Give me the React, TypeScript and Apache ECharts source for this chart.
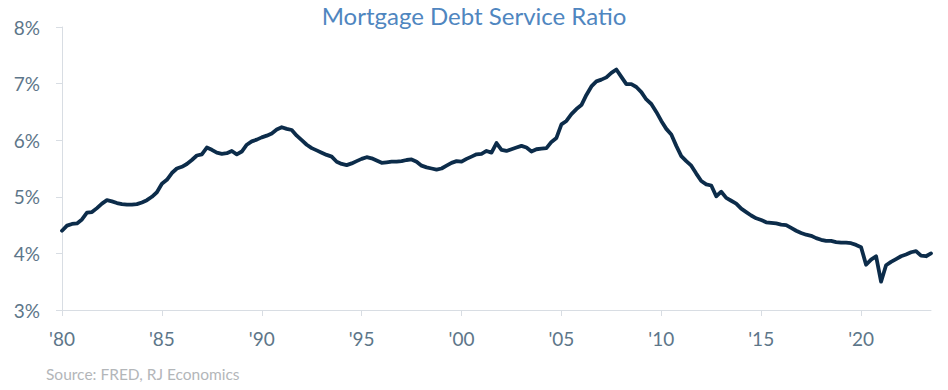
import React, { useEffect, useRef } from "react";
import * as echarts from "echarts";

const TITLE = "Mortgage Debt Service Ratio";
const SOURCE = "Source: FRED, RJ Economics";
const START_YEAR = 1980;
const Y_MIN = 3;
const Y_MAX = 8;
const Y_STEP = 1;

// Quarterly values, 1980Q1 onward (percent of disposable income)
const DSR_VALUES: number[] = [
  4.40, 4.49, 4.52, 4.53, 4.60, 4.72, 4.73, 4.80, 4.88, 4.94, 4.92, 4.89, 4.87, 4.86, 4.86, 4.87,
  4.90, 4.94, 5.00, 5.08, 5.23, 5.30, 5.42, 5.50, 5.53, 5.58, 5.65, 5.73, 5.75, 5.87, 5.83, 5.78,
  5.76, 5.77, 5.81, 5.75, 5.80, 5.92, 5.98, 6.01, 6.05, 6.08, 6.12, 6.19, 6.23, 6.20, 6.18, 6.08,
  6.00, 5.92, 5.86, 5.82, 5.78, 5.74, 5.71, 5.62, 5.58, 5.56, 5.59, 5.63, 5.67, 5.70, 5.68,
  5.64, 5.60, 5.61, 5.62, 5.62, 5.63, 5.65, 5.66, 5.62, 5.55, 5.52, 5.50, 5.48, 5.50, 5.55, 5.60,
  5.63, 5.62, 5.67, 5.71, 5.75, 5.76, 5.81, 5.78, 5.95, 5.83, 5.81, 5.84, 5.87, 5.90, 5.87,
  5.80, 5.84, 5.85, 5.86, 5.97, 6.04, 6.28, 6.34, 6.46, 6.55, 6.62, 6.80, 6.95, 7.04, 7.07, 7.11,
  7.19, 7.25, 7.12, 6.99, 6.99, 6.94, 6.85, 6.72, 6.64, 6.50, 6.34, 6.20, 6.10, 5.90,
  5.72, 5.63, 5.55, 5.41, 5.28, 5.22, 5.20, 5.01, 5.09, 4.98, 4.93, 4.88, 4.79, 4.73, 4.67, 4.62,
  4.59, 4.55, 4.54, 4.53, 4.51, 4.50, 4.45, 4.40, 4.36, 4.33, 4.31, 4.27, 4.24,
  4.22, 4.22, 4.20, 4.19, 4.19, 4.18, 4.15, 4.11, 3.80, 3.89, 3.95, 3.50, 3.79, 3.85, 3.90, 3.95,
  3.98, 4.02, 4.04, 3.96, 3.95, 4.00,
];

const X_TICK_YEARS: number[] = [1980, 1985, 1990, 1995, 2000, 2005, 2010, 2015, 2020];
const X_TICK_LABELS: string[] = ["'80", "'85", "'90", "'95", "'00", "'05", "'10", "'15", "'20"];

const QUARTERS: string[] = DSR_VALUES.map((_, i) => {
  const y = START_YEAR + Math.floor(i / 4);
  return `${y}Q${(i % 4) + 1}`;
});

const isTickCategory = (index: number): boolean => {
  const cat = QUARTERS[index];
  if (!cat || !cat.endsWith("Q1")) return false;
  return X_TICK_YEARS.includes(parseInt(cat.slice(0, 4), 10));
};

const labelFor = (cat: string): string => {
  const idx = X_TICK_YEARS.indexOf(parseInt(cat.slice(0, 4), 10));
  return idx >= 0 ? X_TICK_LABELS[idx] : "";
};

const FONT = "Lato";
const AXIS_TEXT = "#5d7689";
const AXIS_LINE = "#d8dde3";

export default function App() {
  const ref = useRef<HTMLDivElement>(null);

  useEffect(() => {
    if (!ref.current) return;
    const chart = echarts.init(ref.current, null, { renderer: "svg" });
    chart.setOption({
      animation: false,
      backgroundColor: "#ffffff",
      textStyle: { fontFamily: FONT },
      title: {
        text: TITLE,
        left: "center",
        top: -2,
        textStyle: { fontFamily: FONT, fontSize: 24, fontWeight: "normal", color: "#4f86bf" },
      },
      graphic: [
        {
          type: "text",
          left: 46,
          top: 366,
          style: { text: SOURCE, fontFamily: FONT, fontSize: 15.5, fill: "#b3b6b9" },
        },
      ],
      grid: { left: 62, right: 17, top: 27, bottom: 80, containLabel: false },
      xAxis: {
        type: "category",
        data: QUARTERS,
        boundaryGap: false,
        axisLine: { show: true, lineStyle: { color: AXIS_LINE, width: 1 } },
        axisTick: {
          show: true,
          interval: (index: number) => isTickCategory(index),
          length: 6,
          lineStyle: { color: AXIS_LINE },
        },
        axisLabel: {
          interval: (index: number) => isTickCategory(index),
          formatter: (v: string) => labelFor(v),
          color: AXIS_TEXT,
          fontFamily: FONT,
          fontSize: 19,
          margin: 19,
        },
        splitLine: { show: false },
      },
      yAxis: {
        type: "value",
        min: Y_MIN,
        max: Y_MAX,
        interval: Y_STEP,
        axisLine: { show: true, lineStyle: { color: AXIS_LINE, width: 1 } },
        axisTick: { show: true, length: 6, lineStyle: { color: AXIS_LINE } },
        axisLabel: {
          formatter: "{value}%",
          color: AXIS_TEXT,
          fontFamily: FONT,
          fontSize: 19,
          margin: 22,
        },
        splitLine: { show: false },
      },
      series: [
        {
          type: "line",
          data: DSR_VALUES,
          showSymbol: false,
          symbol: "none",
          lineStyle: { color: "#0c2c4a", width: 3.8, join: "round", cap: "round" },
          smooth: false,
        },
      ],
    });
    return () => chart.dispose();
  }, []);

  return (
    <div
      ref={ref}
      style={{ position: "fixed", left: 0, top: 0, width: 948, height: 390, background: "#fff" }}
    />
  );
}
